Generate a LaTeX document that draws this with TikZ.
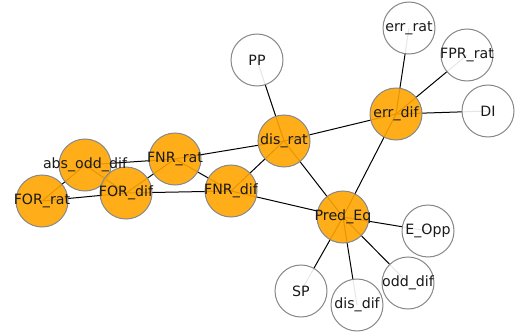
\documentclass[tikz,border=0pt]{standalone}
\usepackage{fontspec}
\setmainfont{DejaVu Sans}
\usetikzlibrary{backgrounds}
\definecolor{nodeorange}{HTML}{FFA500}
\definecolor{nodeedge}{HTML}{888888}
\begin{document}
\begin{tikzpicture}[x=1pt,y=-1pt,
  lbl/.style={inner sep=0pt,font=\fontsize{14.2}{16}\selectfont,text=black!90},
  base/.style={circle,draw=nodeedge,line width=1pt,minimum size=52pt,inner sep=0pt,
    fill opacity=0.9},
  hub/.style={base,fill=nodeorange},
  leaf/.style={base,fill=white},
  link/.style={black,line width=1pt}]
\useasboundingbox (0,0) rectangle (520,332);
% circles
\node[leaf] (PP) at (257,60) {};
\node[leaf] (errrat) at (409,28) {};
\node[leaf] (FPRrat) at (467,55) {};
\node[leaf] (DI) at (488,111) {};
\node[hub] (errdif) at (396,114) {};
\node[hub] (disrat) at (284,141) {};
\node[hub] (FNRrat) at (175,159) {};
\node[hub] (absodd) at (85,165) {};
\node[hub] (FORdif) at (126,193) {};
\node[hub] (FORrat) at (42,201) {};
\node[hub] (FNRdif) at (231,191) {};
\node[hub] (PredEq) at (343,217) {};
\node[leaf] (EOpp) at (428,231) {};
\node[leaf] (SP) at (301,291) {};
\node[leaf] (disdif) at (357,305) {};
\node[leaf] (odddif) at (408,283) {};
% labels on top of all circles
\node[lbl] (PP-t) at (PP.center) {PP};
\node[lbl] (errrat-t) at (errrat.center) {err\_rat};
\node[lbl] (FPRrat-t) at (FPRrat.center) {FPR\_rat};
\node[lbl] (DI-t) at (DI.center) {DI};
\node[lbl] (errdif-t) at (errdif.center) {err\_dif};
\node[lbl] (disrat-t) at (disrat.center) {dis\_rat};
\node[lbl] (FNRrat-t) at (FNRrat.center) {FNR\_rat};
\node[lbl] (absodd-t) at (absodd.center) {abs\_odd\_dif};
\node[lbl] (FORdif-t) at (FORdif.center) {FOR\_dif};
\node[lbl] (FORrat-t) at (FORrat.center) {FOR\_rat};
\node[lbl] (FNRdif-t) at (FNRdif.center) {FNR\_dif};
\node[lbl] (PredEq-t) at (PredEq.center) {Pred\_Eq};
\node[lbl] (EOpp-t) at (EOpp.center) {E\_Opp};
\node[lbl] (SP-t) at (SP.center) {SP};
\node[lbl] (disdif-t) at (disdif.center) {dis\_dif};
\node[lbl] (odddif-t) at (odddif.center) {odd\_dif};
% connectors
\begin{scope}[on background layer]
\draw[link] (PP.center) -- (disrat.center);
\draw[link] (errrat.center) -- (errdif.center);
\draw[link] (FPRrat.center) -- (errdif.center);
\draw[link] (DI.center) -- (errdif.center);
\draw[link] (errdif.center) -- (disrat.center);
\draw[link] (errdif.center) -- (PredEq.center);
\draw[link] (disrat.center) -- (FNRrat.center);
\draw[link] (disrat.center) -- (FNRdif.center);
\draw[link] (disrat.center) -- (PredEq.center);
\draw[link] (FNRrat.center) -- (absodd.center);
\draw[link] (FNRrat.center) -- (FORdif.center);
\draw[link] (FNRrat.center) -- (FNRdif.center);
\draw[link] (absodd.center) -- (FORrat.center);
\draw[link] (absodd.center) -- (FORdif.center);
\draw[link] (FORdif.center) -- (FORrat.center);
\draw[link] (FORdif.center) -- (FNRdif.center);
\draw[link] (FNRdif.center) -- (PredEq.center);
\draw[link] (PredEq.center) -- (EOpp.center);
\draw[link] (PredEq.center) -- (SP.center);
\draw[link] (PredEq.center) -- (disdif.center);
\draw[link] (PredEq.center) -- (odddif.center);
\end{scope}
\end{tikzpicture}
\end{document}
